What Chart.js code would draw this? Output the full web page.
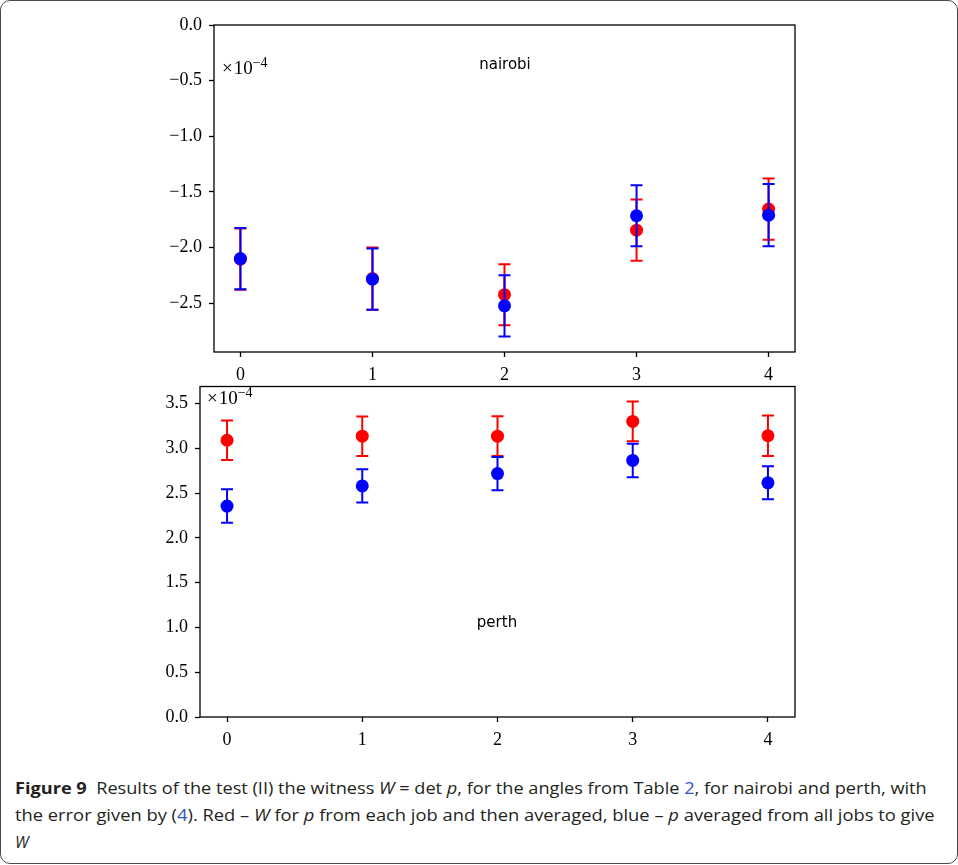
<!DOCTYPE html>
<html>
<head>
<meta charset="utf-8">
<script src="https://cdn.jsdelivr.net/npm/chart.js@4/dist/chart.umd.min.js"></script>
<style>
  body { margin: 0; background: #fff; width: 958px; height: 865px; position: relative; overflow: hidden; }
  #frame { position: absolute; left: 0; top: 0; width: 958px; height: 864px; box-sizing: border-box;
           border: 1.5px solid #4a4a4a; border-radius: 10px; }
  canvas { position: absolute; left: 0; }
  .site { position: absolute; font-family: "DejaVu Sans", sans-serif; font-size: 15px; color: #000;
          line-height: 1; transform: translate(-50%, -50%); white-space: nowrap; }
  .offset { position: absolute; font-family: "Liberation Serif", serif; font-size: 19px; color: #000;
            line-height: 19px; white-space: nowrap; }
  .offset .x { margin-right: 1px; }
  .offset sup { font-size: 14px; vertical-align: 7px; line-height: 0; }
  .cap { position: absolute; left: 15px; font-family: "Open Sans", sans-serif; font-size: 16px; color: #231f20;
         white-space: nowrap; transform-origin: left center; line-height: 1; }
  .cap b { font-weight: 700; }
  .cap a { color: #2f56c8; text-decoration: none; }
</style>
</head>
<body>
<div id="frame"></div>
<canvas id="nairobi-chart" width="958" height="380" style="top:0"></canvas>
<canvas id="perth-chart" width="958" height="380" style="top:380px"></canvas>

<div class="site" style="left:505px; top:64px;">nairobi</div>
<div class="site" style="left:497px; top:622px;">perth</div>
<div class="offset" style="left:222px; top:58px;"><span class="x">×</span>10<sup>−4</sup></div>
<div class="offset" style="left:207px; top:388px;"><span class="x">×</span>10<sup>−4</sup></div>

<div class="cap" id="cap1" style="top:780px;"><b>Figure 9</b>&nbsp;&nbsp;Results of the test (II) the witness <i>W</i> = det<i> p</i>, for the angles from Table <a>2</a>, for nairobi and perth, with</div>
<div class="cap" id="cap2" style="top:807px;">the error given by (<a>4</a>). Red – <i>W</i> for <i>p</i> from each job and then averaged, blue – <i>p</i> averaged from all jobs to give</div>
<div class="cap" id="cap3" style="top:834px;"><i>W</i></div>

<script>
// angles index on the x axis
const angles = [0, 1, 2, 3, 4];
const xTicks = [0, 1, 2, 3, 4];

// nairobi, values in units of 1e-4
const nairobiRed = [-2.105, -2.28, -2.425, -1.845, -1.655];
const nairobiRedErr = [0.275, 0.28, 0.275, 0.275, 0.275];
const nairobiBlue = [-2.10, -2.285, -2.525, -1.715, -1.71];
const nairobiBlueErr = [0.275, 0.275, 0.275, 0.275, 0.28];
const nairobiYTicks = [0.0, -0.5, -1.0, -1.5, -2.0, -2.5];

// perth, values in units of 1e-4
const perthRed = [3.09, 3.135, 3.135, 3.30, 3.14];
const perthRedErr = [0.22, 0.22, 0.222, 0.222, 0.225];
const perthBlue = [2.355, 2.58, 2.718, 2.865, 2.615];
const perthBlueErr = [0.187, 0.185, 0.185, 0.187, 0.185];
const perthYTicks = [0.0, 0.5, 1.0, 1.5, 2.0, 2.5, 3.0, 3.5];

// draws the error bars of a dataset just before its markers
const errorBars = {
    id: 'errorBars',
    beforeDatasetDraw(chart, args) {
        const ds = chart.data.datasets[args.index];
        if (!ds.errors) return;
        const ctx = chart.ctx;
        const x = chart.scales.x, y = chart.scales.y;
        ctx.save();
        ctx.strokeStyle = ds.borderColor;
        ctx.lineWidth = 2;
        ds.data.forEach(function (p, i) {
            const px = x.getPixelForValue(p.x);
            const top = y.getPixelForValue(p.y + ds.errors[i]);
            const bot = y.getPixelForValue(p.y - ds.errors[i]);
            ctx.beginPath();
            ctx.moveTo(px, top); ctx.lineTo(px, bot);
            ctx.moveTo(px - 6, top); ctx.lineTo(px + 6, top);
            ctx.moveTo(px - 6, bot); ctx.lineTo(px + 6, bot);
            ctx.stroke();
        });
        ctx.restore();
    }
};

// black box round the plot area
const axesFrame = {
    id: 'axesFrame',
    afterDatasetsDraw(chart) {
        const a = chart.chartArea;
        const ctx = chart.ctx;
        ctx.save();
        ctx.strokeStyle = '#000';
        ctx.lineWidth = 1.3;
        ctx.strokeRect(a.left, a.top, a.right - a.left, a.bottom - a.top);
        ctx.restore();
    }
};

function points(values) {
    return angles.map((a, i) => ({ x: a, y: values[i] }));
}

function makeChart(canvasId, red, redErr, blue, blueErr, yTicks, yMin, yMax, yWidth, pad) {
    const tickFont = { family: 'Liberation Serif', size: 18 };
    return new Chart(document.getElementById(canvasId), {
        type: 'scatter',
        data: {
            datasets: [
                {
                    label: 'red',
                    data: points(red),
                    errors: redErr,
                    borderColor: '#ff0000',
                    backgroundColor: '#ff0000',
                    pointRadius: 6.5,
                    pointBorderWidth: 0,
                    order: 2,
                },
                {
                    label: 'blue',
                    data: points(blue),
                    errors: blueErr,
                    borderColor: '#0000ff',
                    backgroundColor: '#0000ff',
                    pointRadius: 6.5,
                    pointBorderWidth: 0,
                    order: 1,
                },
            ],
        },
        options: {
            responsive: false,
            animation: false,
            events: [],
            layout: { padding: pad },
            plugins: {
                legend: { display: false },
                tooltip: { enabled: false },
            },
            scales: {
                x: {
                    type: 'linear',
                    min: -0.2,
                    max: 4.2,
                    afterBuildTicks: (s) => { s.ticks = xTicks.map(v => ({ value: v })); },
                    afterFit: (s) => { s.height = 28; s.paddingLeft = 0; s.paddingRight = 0; },
                    grid: { drawOnChartArea: false, drawTicks: true, tickLength: 5, tickColor: '#000', tickWidth: 1.3 },
                    border: { display: false },
                    ticks: { color: '#000', font: tickFont, padding: 7, maxRotation: 0, callback: (v) => String(v) },
                },
                y: {
                    type: 'linear',
                    min: yMin,
                    max: yMax,
                    afterBuildTicks: (s) => { s.ticks = yTicks.map(v => ({ value: v })); },
                    afterFit: (s) => { s.width = yWidth; s.paddingTop = 0; s.paddingBottom = 0; },
                    grid: { drawOnChartArea: false, drawTicks: true, tickLength: 5, tickColor: '#000', tickWidth: 1.3 },
                    border: { display: false },
                    ticks: { color: '#000', font: tickFont, padding: 7,
                        callback: (v) => v.toFixed(1).replace('-', '\u2212') },
                },
            },
        },
        plugins: [errorBars, axesFrame],
    });
}

makeChart('nairobi-chart', nairobiRed, nairobiRedErr, nairobiBlue, nairobiBlueErr,
    nairobiYTicks, -2.94, 0, 214, { top: 25, right: 163, bottom: 0, left: 0 });
makeChart('perth-chart', perthRed, perthRedErr, perthBlue, perthBlueErr,
    perthYTicks, 0, 3.69, 200, { top: 5, right: 163, bottom: 15, left: 0 });

// squeeze caption lines to the width they have in the figure
[['cap1', 912], ['cap2', 920]].forEach(function (c) {
    const el = document.getElementById(c[0]);
    el.style.transform = 'scaleX(' + (c[1] / el.offsetWidth) + ')';
});
</script>
</body>
</html>
